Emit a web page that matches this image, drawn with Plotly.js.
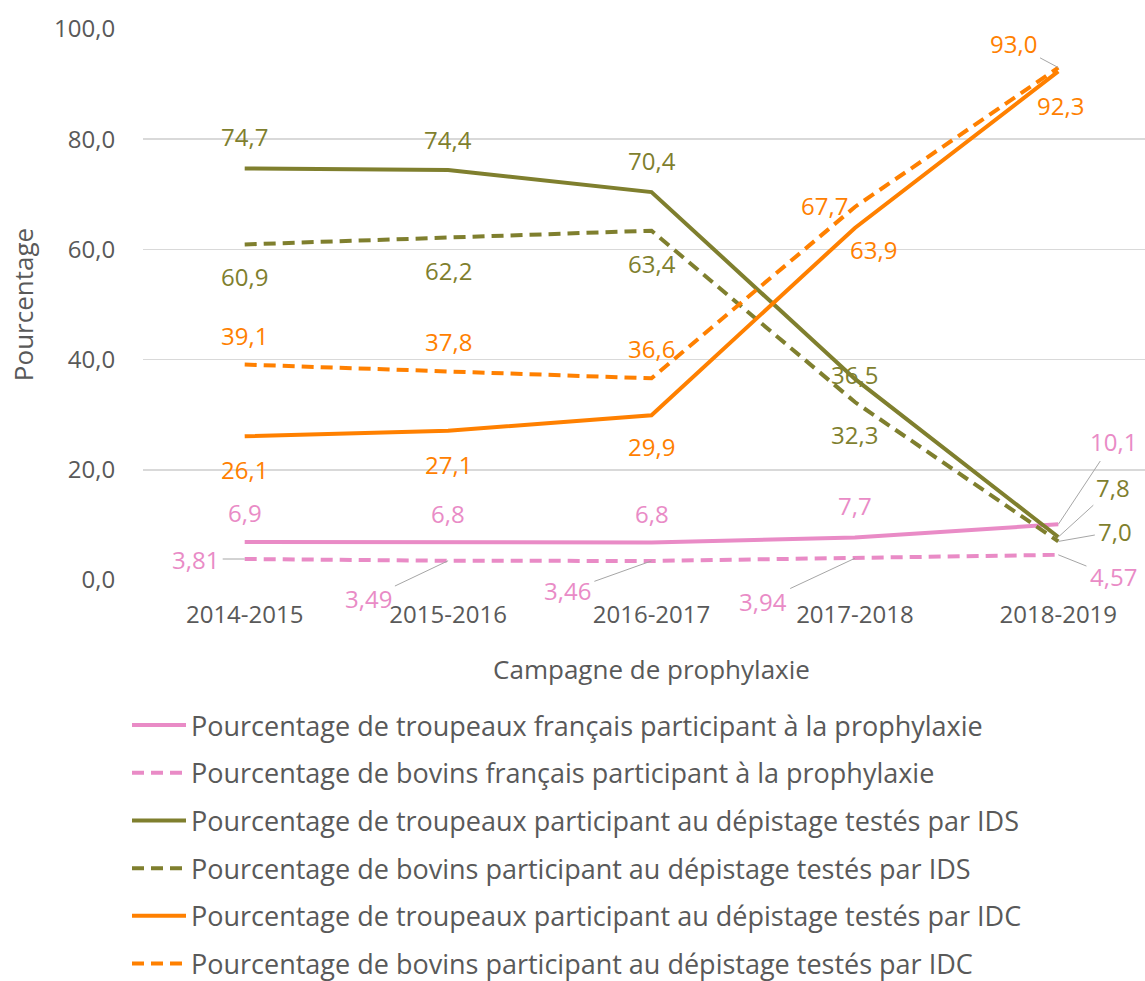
<!DOCTYPE html>
<html>
<head>
<meta charset="utf-8">
<script src="https://cdn.plot.ly/plotly-3.0.1.min.js"></script>
<style>html,body{margin:0;padding:0;overflow:hidden;background:#fff}</style>
</head>
<body>
<div id="chart"></div>
<script>
const categories = ["2014-2015", "2015-2016", "2016-2017", "2017-2018", "2018-2019"];
const troupeauxFrancais = [6.9, 6.8, 6.8, 7.7, 10.1];
const bovinsFrancais = [3.81, 3.49, 3.46, 3.94, 4.57];
const troupeauxIDS = [74.7, 74.4, 70.4, 36.5, 7.8];
const bovinsIDS = [60.9, 62.2, 63.4, 32.3, 7.0];
const troupeauxIDC = [26.1, 27.1, 29.9, 63.9, 92.3];
const bovinsIDC = [39.1, 37.8, 36.6, 67.7, 93.0];
const seriesNames = [
  "Pourcentage de troupeaux français participant à la prophylaxie",
  "Pourcentage de bovins français participant à la prophylaxie",
  "Pourcentage de troupeaux participant au dépistage testés par IDS",
  "Pourcentage de bovins participant au dépistage testés par IDS",
  "Pourcentage de troupeaux participant au dépistage testés par IDC",
  "Pourcentage de bovins participant au dépistage testés par IDC"
];
const yTickVals = [0, 20, 40, 60, 80, 100];
const yTickText = ["0,0", "20,0", "40,0", "60,0", "80,0", "100,0"];

const PINK = "#E98BC6", OLIVE = "#7F7F2E", ORANGE = "#FF8000";
const FONT = "'Open Sans', sans-serif";
const DASH = "12px,7px";

const seriesDefs = [
  {y: troupeauxFrancais, color: PINK, dash: "solid"},
  {y: bovinsFrancais, color: PINK, dash: DASH},
  {y: troupeauxIDS, color: OLIVE, dash: "solid"},
  {y: bovinsIDS, color: OLIVE, dash: DASH},
  {y: troupeauxIDC, color: ORANGE, dash: "solid"},
  {y: bovinsIDC, color: ORANGE, dash: DASH}
];

const traces = seriesDefs.map((s, i) => ({
  type: "scatter", mode: "lines", x: categories, y: s.y, name: seriesNames[i],
  legendgroup: "g" + i,
  line: {color: s.color, width: 4, dash: s.dash},
  hoverinfo: "x+y"
}));

function fmt(v, dec) { return v.toFixed(dec).replace(".", ","); }

// label placement: [series index, point index, xshift, yshift(px, down positive)]
const plain = [
  [0,0,0,-29],[0,1,0,-29],[0,2,0,-29],[0,3,0,-32],
  [2,0,0,-32],[2,1,0,-31],[2,2,0,-32],[2,3,0,-4],
  [3,0,0,32],[3,1,0,33],[3,2,0,33],[3,3,0,32],
  [4,0,0,33],[4,1,0,34],[4,2,0,31],[4,3,19,22],[4,4,2,34],
  [5,0,0,-29],[5,1,0,-30],[5,2,0,-30],[5,3,-30,-1]
];
// leader labels: [series, point, ax, ay]
const leaders = [
  [5,4,-45,-24],
  [0,4,55,-83],[2,4,55,-50],[3,4,57,-10],
  [1,4,55,22],
  [1,0,-49,0],[1,1,-80,38],[1,2,-84,30],[1,3,-92,43]
];
const decs = [1,2,1,1,1,1];

const annotations = [];
plain.forEach(([si, pi, xs, ys]) => {
  annotations.push({
    x: categories[pi], y: seriesDefs[si].y[pi], xref: "x", yref: "y",
    text: fmt(seriesDefs[si].y[pi], decs[si]), showarrow: false,
    xshift: xs, yshift: -ys,
    font: {family: FONT, size: 24, color: seriesDefs[si].color}
  });
});
leaders.forEach(([si, pi, ax, ay]) => {
  annotations.push({
    x: categories[pi], y: seriesDefs[si].y[pi], xref: "x", yref: "y",
    text: fmt(seriesDefs[si].y[pi], decs[si]), showarrow: true,
    ax: ax, ay: ay, arrowhead: 0, arrowwidth: 1, arrowcolor: "#A6A6A6",
    standoff: 0, startstandoff: 2,
    font: {family: FONT, size: 24, color: seriesDefs[si].color}
  });
});

const layout = {
  width: 1160, height: 981,
  margin: {l: 143, r: 0, t: 29, b: 401, autoexpand: false},
  paper_bgcolor: "#fff", plot_bgcolor: "#fff",
  font: {family: FONT, color: "#595959"},
  showlegend: true,
  xaxis: {
    type: "category", range: [-0.5, 4.5], showgrid: false, zeroline: false,
    showline: false, ticks: "outside", ticklen: 13, tickcolor: "rgba(0,0,0,0)", automargin: false,
    tickfont: {family: FONT, size: 24, color: "#595959"},
    title: {text: "Campagne de prophylaxie", font: {family: FONT, size: 26, color: "#595959"}, standoff: 32}
  },
  yaxis: {
    range: [0, 100], tickvals: yTickVals, ticktext: yTickText, automargin: false,
    showgrid: true, gridcolor: "#D9D9D9", gridwidth: 1.5, zeroline: false, showline: false,
    tickfont: {family: FONT, size: 24, color: "#595959"},
    ticks: "outside", ticklen: 22, tickcolor: "rgba(0,0,0,0)",
    title: {text: "Pourcentage", font: {family: FONT, size: 26, color: "#595959"}, standoff: 12}
  },
  legend: {
    x: -16/1017, xanchor: "left", y: -121/551, yanchor: "top",
    orientation: "v", traceorder: "grouped", tracegroupgap: 9.6, itemwidth: 54,
    font: {family: FONT, size: 27, color: "#595959"}, bgcolor: "rgba(0,0,0,0)"
  },
  annotations: annotations
};

Plotly.newPlot("chart", traces, layout, {displayModeBar: false, staticPlot: true});
</script>
</body>
</html>
